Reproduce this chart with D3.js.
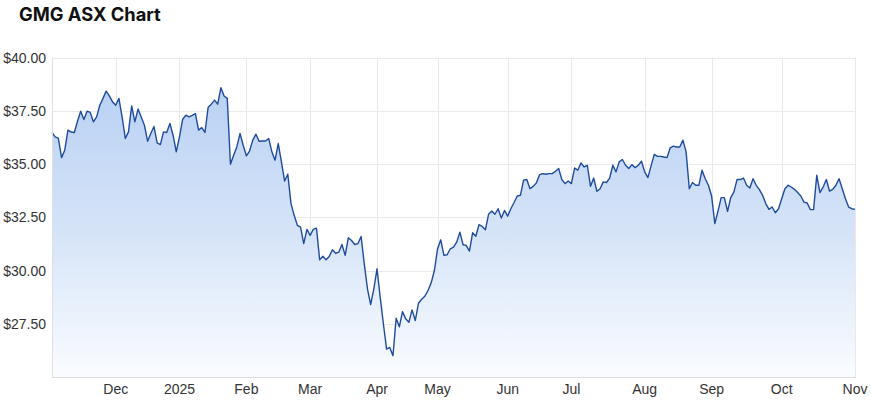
<!DOCTYPE html>
<html>
<head>
<meta charset="utf-8">
<script src="https://cdn.jsdelivr.net/npm/d3@7"></script>
<style>
  body { margin: 0; background: #fff; }
  svg { display: block; }
</style>
</head>
<body>
<svg id="chart" width="871" height="403"></svg>
<script>
// GMG closing prices, one per ASX trading day (4 Nov 2024 - 3 Nov 2025)
const prices = [
  36.48, 36.27, 36.2, 35.3, 35.65, 36.59, 36.5, 36.48, 37.01, 37.48,
  37.09, 37.48, 37.42, 36.98, 37.21, 37.76, 38.08, 38.42, 38.2, 37.92,
  37.76, 38.08, 37.21, 36.2, 36.51, 37.73, 36.98, 37.58, 37.21, 36.82,
  36.07, 36.43, 36.76, 35.99, 35.91, 36.51, 36.48, 36.9, 36.35, 35.57,
  36.27, 37.1, 37.29, 37.21, 37.28, 37.37, 36.59, 36.71, 36.48, 37.66,
  37.81, 38.0, 37.81, 38.58, 38.19, 38.08, 34.99, 35.41, 35.8, 36.43,
  35.88, 35.38, 35.61, 36.12, 36.4, 36.07, 36.08, 36.08, 36.2, 35.57,
  35.18, 35.96, 35.1, 34.2, 34.52, 33.14, 32.59, 32.12, 32.04, 31.26,
  31.93, 31.65, 31.93, 31.99, 30.5, 30.67, 30.5, 30.66, 30.97, 30.81,
  30.86, 31.22, 30.71, 31.54, 31.41, 31.22, 31.26, 31.6, 30.31, 29.14,
  28.4, 29.14, 30.08, 28.74, 27.49, 26.31, 26.39, 26.0, 27.76, 27.36,
  28.07, 27.73, 27.57, 28.15, 27.65, 28.46, 28.65, 28.79, 29.06, 29.42,
  30.0, 31.02, 31.44, 30.71, 30.74, 31.02, 31.1, 31.33, 31.8, 31.21,
  31.18, 30.91, 31.77, 31.61, 32.15, 32.07, 31.91, 32.64, 32.79, 32.64,
  32.9, 32.46, 32.82, 32.55, 32.9, 33.19, 33.5, 33.53, 34.24, 34.27,
  33.84, 33.95, 34.11, 34.5, 34.55, 34.52, 34.55, 34.55, 34.66, 34.79,
  34.27, 34.08, 34.2, 34.08, 34.81, 34.71, 35.05, 34.86, 34.94, 33.95,
  34.34, 33.72, 33.84, 34.16, 34.13, 34.34, 34.94, 34.63, 35.1, 35.21,
  34.94, 34.79, 34.97, 34.83, 34.94, 35.13, 34.63, 34.36, 34.91, 35.45,
  35.36, 35.36, 35.33, 35.3, 35.76, 35.84, 35.8, 35.8, 36.12, 35.57,
  33.84, 34.13, 34.0, 34.0, 34.71, 34.31, 34.0, 33.5, 32.2, 32.78,
  33.42, 33.42, 32.78, 33.42, 33.69, 34.28, 34.27, 34.34, 34.0, 33.87,
  34.31, 34.0, 33.8, 33.53, 33.14, 32.87, 32.98, 32.71, 32.9, 33.37,
  33.84, 34.0, 33.92, 33.81, 33.66, 33.5, 33.21, 33.17, 32.86, 32.86,
  34.47, 33.66, 33.92, 34.27, 33.73, 33.81, 34.0, 34.31, 33.84, 33.37,
  32.98, 32.9, 32.87
];

// trading calendar
const firstDay = "2024-11-04";
const holidays = ["2024-12-25", "2024-12-26", "2025-01-01", "2025-01-27",
                  "2025-04-18", "2025-04-21", "2025-04-25", "2025-06-09"];
const yTicks = [27.5, 30, 32.5, 35, 37.5, 40];
const monthNames = ["2025", "Feb", "Mar", "Apr", "May", "Jun", "Jul", "Aug", "Sep", "Oct", "Nov", "Dec"];

const iso = d3.utcFormat("%Y-%m-%d");
let dates = [];
let d = d3.utcParse("%Y-%m-%d")(firstDay);
while (dates.length < prices.length) {
  let wd = d.getUTCDay();
  if (wd != 0 && wd != 6 && holidays.indexOf(iso(d)) < 0) dates.push(d);
  d = d3.utcDay.offset(d, 1);
}

// index of first trading day of each month
let monthTicks = [];
dates.forEach(function (dt, i) {
  if (i > 0 && dt.getUTCMonth() != dates[i - 1].getUTCMonth()) monthTicks.push(i);
});

const svg = d3.select("#chart");
const plotL = 52, plotR = 856, plotT = 57.5, plotB = 377;

const x = d3.scaleLinear().domain([0, prices.length - 1]).range([plotL, plotR - 1]);
const y = d3.scaleLinear().domain([25, 40]).range([plotB, plotT]);

const defs = svg.append("defs");
const grad = defs.append("linearGradient")
  .attr("id", "fill")
  .attr("gradientUnits", "userSpaceOnUse")
  .attr("x1", 0).attr("x2", 0).attr("y1", plotT).attr("y2", plotB);
grad.append("stop").attr("offset", "0%").attr("stop-color", "#b3cdf3");
grad.append("stop").attr("offset", "55%").attr("stop-color", "#d6e4f8");
grad.append("stop").attr("offset", "100%").attr("stop-color", "#fafcff");

// title
svg.append("text")
  .attr("x", 19).attr("y", 21)
  .attr("font-family", "Inter, 'Noto Sans', sans-serif")
  .attr("font-weight", 700)
  .attr("font-size", 18.3)
  .attr("fill", "#111")
  .text("GMG ASX Chart");

// grid
svg.append("g")
  .selectAll("line")
  .data(yTicks)
  .join("line")
  .attr("x1", plotL).attr("x2", plotR)
  .attr("y1", function (v) { return Math.round(y(v)) + 0.5; })
  .attr("y2", function (v) { return Math.round(y(v)) + 0.5; })
  .attr("stroke", "#e9e9ed");

svg.append("g")
  .selectAll("line")
  .data(monthTicks)
  .join("line")
  .attr("x1", function (i) { return Math.round(x(i)) + 0.5; })
  .attr("x2", function (i) { return Math.round(x(i)) + 0.5; })
  .attr("y1", plotT).attr("y2", plotB)
  .attr("stroke", "#e9e9ed");

// area + line
const area = d3.area()
  .x(function (v, i) { return x(i); })
  .y0(plotB)
  .y1(function (v) { return y(v); });
const line = d3.line()
  .x(function (v, i) { return x(i); })
  .y(function (v) { return y(v); });

svg.append("path").datum(prices).attr("d", area).attr("fill", "url(#fill)");
svg.append("path").datum(prices)
  .attr("d", line)
  .attr("fill", "none")
  .attr("stroke", "#1f4b9e")
  .attr("stroke-width", 1.4)
  .attr("stroke-linejoin", "round");

// axis frame
svg.append("line")
  .attr("x1", plotL + 0.5).attr("x2", plotL + 0.5).attr("y1", plotT).attr("y2", plotB)
  .attr("stroke", "#e0e0e4");
svg.append("line")
  .attr("x1", plotL).attr("x2", plotR).attr("y1", plotB + 0.5).attr("y2", plotB + 0.5)
  .attr("stroke", "#dcdce0");

// tick labels
svg.append("g")
  .selectAll("text")
  .data(yTicks)
  .join("text")
  .attr("x", 46)
  .attr("y", function (v) { return y(v) + 5; })
  .attr("text-anchor", "end")
  .attr("font-family", "Arial, 'Liberation Sans', sans-serif")
  .attr("font-size", 14)
  .attr("fill", "#333")
  .text(function (v) { return d3.format("$.2f")(v); });

svg.append("g")
  .selectAll("text")
  .data(monthTicks)
  .join("text")
  .attr("x", function (i) { return x(i); })
  .attr("y", 394)
  .attr("text-anchor", "middle")
  .attr("font-family", "Arial, 'Liberation Sans', sans-serif")
  .attr("font-size", 14)
  .attr("fill", "#333")
  .text(function (i) { return monthNames[dates[i].getUTCMonth()]; });
</script>
</body>
</html>
